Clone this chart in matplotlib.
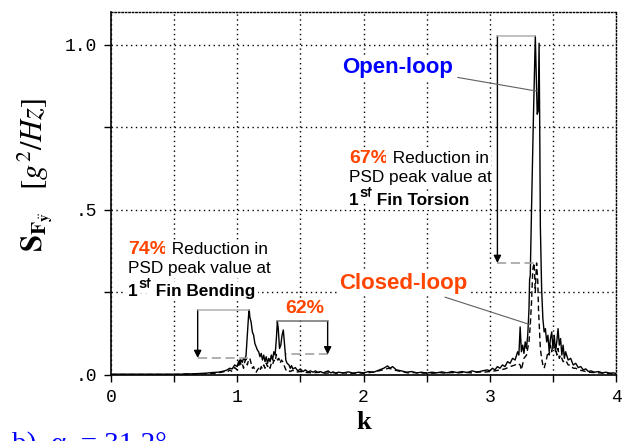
import numpy as np
import matplotlib
matplotlib.use('Agg')
import matplotlib.pyplot as plt

# Reduced frequency
k_open = [0.00, 0.05, 0.10, 0.15, 0.20, 0.25, 0.30, 0.35, 0.40, 0.45, 0.50, 0.55,
          0.60, 0.65, 0.70, 0.75, 0.80, 0.85, 0.90,
          0.92, 0.94, 0.96, 0.98, 1.00, 1.01, 1.02, 1.03, 1.04, 1.05, 1.06, 1.07,
          1.08, 1.09, 1.095, 1.10, 1.11, 1.12, 1.13, 1.14, 1.15, 1.16, 1.17, 1.18,
          1.19, 1.20, 1.21, 1.22, 1.23, 1.24, 1.25, 1.26, 1.27, 1.28, 1.29, 1.30,
          1.31, 1.318, 1.325, 1.335, 1.345, 1.355, 1.365, 1.375, 1.385, 1.395,
          1.41, 1.42, 1.43, 1.44, 1.46, 1.48, 1.50, 1.52, 1.54, 1.56, 1.58, 1.60,
          1.62, 1.64, 1.66, 1.68, 1.70, 1.72, 1.74, 1.76, 1.78, 1.80, 1.84, 1.88,
          1.92, 1.96, 2.00, 2.04, 2.08, 2.12, 2.16, 2.19, 2.21, 2.23, 2.26, 2.30,
          2.34, 2.38, 2.42, 2.46, 2.50, 2.54, 2.58, 2.62, 2.66, 2.70, 2.74, 2.78,
          2.82, 2.86, 2.90, 2.94, 2.98, 3.00, 3.02, 3.04, 3.06, 3.08, 3.10, 3.12,
          3.14, 3.16, 3.18, 3.20, 3.22, 3.23, 3.24, 3.25, 3.26, 3.27, 3.28, 3.29,
          3.30, 3.31, 3.315, 3.32, 3.33, 3.345, 3.36, 3.375, 3.383, 3.39, 3.395,
          3.40, 3.41, 3.42, 3.43, 3.44, 3.45, 3.46, 3.47, 3.48, 3.49, 3.50, 3.51,
          3.52, 3.53, 3.54, 3.55, 3.56, 3.57, 3.58, 3.59, 3.60, 3.62, 3.64, 3.66,
          3.68, 3.70, 3.72, 3.74, 3.76, 3.78, 3.80, 3.83, 3.86, 3.89, 3.92, 3.95,
          3.98, 4.00]
psd_open = [0.002, 0.002, 0.002, 0.002, 0.002, 0.002, 0.002, 0.002, 0.002, 0.002, 0.002, 0.002,
            0.003, 0.003, 0.004, 0.005, 0.007, 0.008, 0.012,
            0.015, 0.020, 0.018, 0.030, 0.025, 0.040, 0.030, 0.045, 0.038, 0.050, 0.045, 0.060,
            0.120, 0.180, 0.197, 0.175, 0.160, 0.130, 0.120, 0.095, 0.085, 0.075, 0.070, 0.055,
            0.065, 0.045, 0.060, 0.040, 0.055, 0.035, 0.050, 0.040, 0.060, 0.045, 0.070, 0.060,
            0.110, 0.162, 0.140, 0.080, 0.090, 0.120, 0.136, 0.090, 0.045, 0.035,
            0.030, 0.020, 0.028, 0.018, 0.022, 0.012, 0.018, 0.010, 0.015, 0.009, 0.012, 0.008,
            0.012, 0.007, 0.010, 0.006, 0.009, 0.012, 0.006, 0.009, 0.005, 0.008, 0.006, 0.009,
            0.005, 0.008, 0.006, 0.010, 0.008, 0.014, 0.020, 0.027, 0.020, 0.025, 0.015, 0.012,
            0.008, 0.010, 0.006, 0.008, 0.005, 0.008, 0.006, 0.009, 0.006, 0.010, 0.007, 0.010,
            0.007, 0.012, 0.008, 0.012, 0.015, 0.012, 0.020, 0.015, 0.025, 0.020, 0.030, 0.025,
            0.040, 0.035, 0.050, 0.045, 0.070, 0.060, 0.145, 0.070, 0.090, 0.065, 0.100, 0.080,
            0.120, 0.200, 0.290, 0.300, 0.500, 0.780, 1.027, 0.790, 0.800, 1.005, 0.750,
            0.450, 0.260, 0.170, 0.130, 0.140, 0.100, 0.120, 0.070, 0.110, 0.130, 0.080, 0.120,
            0.070, 0.100, 0.140, 0.090, 0.110, 0.060, 0.090, 0.050, 0.070, 0.045, 0.050, 0.030,
            0.035, 0.022, 0.025, 0.015, 0.018, 0.010, 0.012, 0.008, 0.010, 0.006, 0.008, 0.005,
            0.006, 0.004]

k_closed = [0.00, 0.10, 0.20, 0.30, 0.40, 0.50, 0.60, 0.70, 0.80, 0.85, 0.90,
            0.92, 0.94, 0.96, 0.98, 1.00, 1.01, 1.02, 1.03, 1.04, 1.05, 1.06, 1.07,
            1.08, 1.09, 1.10, 1.11, 1.12, 1.13, 1.14, 1.15, 1.16, 1.17, 1.18, 1.19,
            1.20, 1.21, 1.22, 1.23, 1.24, 1.25, 1.26, 1.27, 1.28, 1.29, 1.30, 1.31,
            1.32, 1.33, 1.34, 1.35, 1.36, 1.37, 1.38, 1.39, 1.40, 1.42, 1.44, 1.46,
            1.50, 1.55, 1.60, 1.65, 1.70, 1.75, 1.80, 1.85, 1.90, 1.95, 2.00, 2.05,
            2.10, 2.15, 2.20, 2.25, 2.30, 2.35, 2.40, 2.45, 2.50, 2.55, 2.60, 2.65,
            2.70, 2.75, 2.80, 2.85, 2.90, 2.95, 3.00, 3.04, 3.08, 3.12, 3.16, 3.20,
            3.22, 3.24, 3.25, 3.27, 3.29, 3.30, 3.31, 3.32, 3.33, 3.34, 3.35, 3.355,
            3.36, 3.365, 3.37, 3.38, 3.385, 3.39, 3.40, 3.41, 3.42, 3.43, 3.44, 3.45,
            3.46, 3.47, 3.48, 3.49, 3.50, 3.51, 3.52, 3.53, 3.54, 3.55, 3.56, 3.58,
            3.60, 3.62, 3.64, 3.66, 3.68, 3.70, 3.74, 3.78, 3.82, 3.86, 3.90, 3.95,
            4.00]
psd_closed = [0.001, 0.001, 0.001, 0.001, 0.001, 0.001, 0.002, 0.003, 0.004, 0.006, 0.010,
              0.008, 0.015, 0.010, 0.022, 0.015, 0.030, 0.051, 0.030, 0.035, 0.020, 0.040, 0.048,
              0.030, 0.045, 0.050, 0.035, 0.020, 0.025, 0.012, 0.008, 0.015, 0.020, 0.012, 0.025,
              0.018, 0.030, 0.020, 0.035, 0.025, 0.030, 0.020, 0.035, 0.030, 0.045, 0.040, 0.062,
              0.045, 0.050, 0.035, 0.045, 0.040, 0.030, 0.020, 0.012, 0.015, 0.010, 0.014, 0.008,
              0.010, 0.007, 0.006, 0.008, 0.005, 0.007, 0.005, 0.006, 0.004, 0.006, 0.005, 0.007,
              0.010, 0.015, 0.020, 0.014, 0.010, 0.006, 0.007, 0.005, 0.006, 0.005, 0.007, 0.005,
              0.007, 0.006, 0.008, 0.006, 0.009, 0.008, 0.010, 0.012, 0.015, 0.018, 0.025, 0.030,
              0.035, 0.030, 0.015, 0.050, 0.060, 0.080, 0.100, 0.150, 0.220, 0.320, 0.339, 0.300,
              0.250, 0.300, 0.339, 0.280, 0.200, 0.160, 0.080, 0.050, 0.030, 0.020, 0.035, 0.050,
              0.070, 0.060, 0.090, 0.070, 0.100, 0.080, 0.090, 0.060, 0.080, 0.050, 0.060, 0.040,
              0.045, 0.030, 0.030, 0.020, 0.020, 0.015, 0.012, 0.008, 0.007, 0.006, 0.005, 0.004,
              0.003]

# (k window of the mode, k of the arrow, end of the dashed level line, colour of the peak line)
BENDING = ((0.95, 1.2), 0.687, 1.085, '#b0b0b0')
SECOND = ((1.25, 1.45), 1.716, 1.385, '#707070')
TORSION = ((3.25, 3.45), 3.06, 3.38, '#b0b0b0')

ORANGE = '#ff4500'
BLUE = '#0000ff'

plt.rcParams['font.family'] = ['Liberation Sans', 'DejaVu Sans']

fig = plt.figure(figsize=(6.23, 4.41), dpi=100)
ax = fig.add_axes([0.178, 0.150, 0.811, 0.823])

k_open = np.array(k_open)
psd_open = np.array(psd_open)
k_closed = np.array(k_closed)
psd_closed = np.array(psd_closed)

ax.plot(k_open, psd_open, color='k', lw=1.0, zorder=2)
ax.plot(k_closed, psd_closed, color='k', lw=1.0, ls=(0, (4, 2.5)), zorder=2)


def peak(k, psd, window):
    m = (k >= window[0]) & (k <= window[1])
    i = np.argmax(np.where(m, psd, -1))
    return k[i], psd[i]


def reduction_marker(window, k_arrow, k_end, line_color):
    k_op, p_op = peak(k_open, psd_open, window)
    k_cl, p_cl = peak(k_closed, psd_closed, window)
    ax.plot([k_arrow, k_op], [p_op, p_op], color=line_color, lw=1.1, zorder=4)
    ax.plot([k_arrow, k_end], [p_cl, p_cl], color='#9a9a9a',
            lw=1.1, ls=(0, (6, 3)), zorder=2)
    ax.annotate('', xy=(k_arrow, p_cl), xytext=(k_arrow, p_op),
                arrowprops=dict(arrowstyle='-|>', color='k', lw=1.0,
                                mutation_scale=11, shrinkA=0, shrinkB=0))
    return 1 - p_cl / p_op


red_bend = reduction_marker(*BENDING)
red_second = reduction_marker(*SECOND)
red_tors = reduction_marker(*TORSION)

box = dict(facecolor='white', edgecolor='none', pad=1.5)


def reduction_text(x, y, pct, mode, size=12.4):
    t1 = ax.text(x, y, '%d%%' % round(pct * 100), color=ORANGE, fontweight='bold',
                 fontsize=14, va='baseline', bbox=box, zorder=3)
    ax.annotate(' Reduction in', xy=(1, y), xycoords=(t1, ax.transData), va='baseline',
                fontsize=size, bbox=box, zorder=3)
    ax.text(x, y - 0.057, 'PSD peak value at', fontsize=size, va='baseline', bbox=box, zorder=3)
    y3 = y - 0.127
    t3 = ax.text(x, y3, '1', fontsize=size, fontweight='bold', va='baseline', bbox=box, zorder=3)
    t4 = ax.annotate('st', xy=(1, y3), xycoords=(t3, ax.transData), xytext=(0.5, 5.5),
                     textcoords='offset points', va='baseline', fontsize=10.5,
                     fontweight='bold', bbox=box, zorder=3)
    ax.annotate(' ' + mode, xy=(1, y3), xycoords=(t4, ax.transData), va='baseline',
                fontsize=size, fontweight='bold', bbox=box, zorder=3)


reduction_text(0.135, 0.367, red_bend, 'Fin Bending')
reduction_text(1.885, 0.642, red_tors, 'Fin Torsion')
ax.text(1.378, 0.186, '%d%%' % round(red_second * 100), color=ORANGE, fontweight='bold',
        fontsize=14, va='baseline', bbox=dict(facecolor='white', edgecolor='none', pad=0.5),
        zorder=3)

ax.annotate('Open-loop', xy=(3.37, 0.86), xytext=(1.83, 0.933), color=BLUE,
            fontsize=16, fontweight='bold', va='center', bbox=box, zorder=3,
            arrowprops=dict(arrowstyle='-', color='#606060', lw=0.8, shrinkA=2, shrinkB=0))
ax.annotate('Closed-loop', xy=(3.32, 0.152), xytext=(1.81, 0.276), color=ORANGE,
            fontsize=16, fontweight='bold', va='center', bbox=box, zorder=3,
            arrowprops=dict(arrowstyle='-', color='#606060', lw=0.8, shrinkA=2, shrinkB=0))

# axes styling
ax.set_xlim(0, 4)
ax.set_ylim(0, 1.1)
ax.set_xticks([0, 0.5, 1, 1.5, 2, 2.5, 3, 3.5, 4])
ax.set_xticklabels(['0', '', '1', '', '2', '', '3', '', '4'])
ax.set_yticks([0, 0.25, 0.5, 0.75, 1.0])
ax.set_yticklabels(['.0', '', '.5', '', '1.0'])
ax.tick_params(direction='out', length=5, width=1, labelsize=13, pad=5)
for lab in ax.get_xticklabels() + ax.get_yticklabels():
    lab.set_fontfamily('Liberation Mono')
ax.grid(True, color='k', ls=(0, (1, 2.5)), lw=1, zorder=0)
ax.set_axisbelow(True)
for s in ['top', 'right']:
    ax.spines[s].set_linestyle((0, (1, 1.5)))
    ax.spines[s].set_linewidth(1.0)
for s in ['left', 'bottom']:
    ax.spines[s].set_linewidth(1.2)

ax.set_xlabel('k', fontsize=19, fontweight='bold', family='Liberation Serif', labelpad=4)
fig.text(35 / 623, 1 - 175 / 441,
         r'$\mathbf{S}_{\mathbf{F}_{\ddot{\mathbf{y}}}}\quad[g^2/Hz]$',
         rotation=90, ha='center', va='center', fontsize=22, math_fontfamily='stix')
# panel caption, sitting on the lower edge of the figure
fig.text(12 / 623, -0.025, 'b)  \u03b1  = 31.2\u00b0', color=BLUE, fontsize=21,
         family='Liberation Serif', va='baseline')

fig.savefig('out.png', dpi=100)
